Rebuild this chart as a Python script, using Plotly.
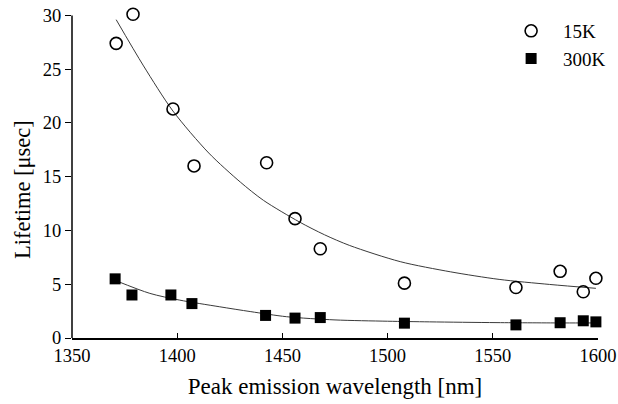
import plotly.graph_objects as go

wl_15k = [1371, 1379, 1398, 1408, 1442.5, 1456, 1468, 1508, 1561, 1582, 1593, 1599]
life_15k = [27.4, 30.1, 21.3, 16.0, 16.3, 11.1, 8.3, 5.1, 4.7, 6.2, 4.3, 5.55]

wl_300k = [1370.5, 1378.5, 1397, 1407, 1442, 1456, 1468, 1508, 1561, 1582, 1593, 1599]
life_300k = [5.5, 4.0, 4.0, 3.2, 2.1, 1.85, 1.9, 1.38, 1.22, 1.42, 1.6, 1.5]

# Fitted curves
fit_wl_15k = [1371, 1384, 1398, 1415, 1430, 1441, 1458, 1470, 1482, 1506, 1530, 1553, 1577, 1599]
fit_life_15k = [29.6, 25.3, 21.1, 17.2, 14.5, 12.8, 10.8, 9.6, 8.6, 7.1, 6.15, 5.45, 4.98, 4.62]

fit_wl_300k = [1371, 1387, 1401, 1420, 1435, 1452, 1475, 1500, 1520, 1552, 1584, 1597]
fit_life_300k = [5.32, 4.15, 3.53, 2.91, 2.45, 1.98, 1.68, 1.56, 1.5, 1.43, 1.4, 1.40]

x_ticks = [1350, 1400, 1450, 1500, 1550, 1600]
y_ticks = [0, 5, 10, 15, 20, 25, 30]
y_axis_top = 30

FONT = "Liberation Serif"
LINE_C = "#3a3a3a"

fig = go.Figure()
fig.add_trace(go.Scatter(x=fit_wl_15k, y=fit_life_15k, mode="lines",
                         line=dict(color=LINE_C, width=1, shape="spline", smoothing=0.8),
                         showlegend=False, hoverinfo="skip"))
fig.add_trace(go.Scatter(x=fit_wl_300k, y=fit_life_300k, mode="lines",
                         line=dict(color=LINE_C, width=1, shape="spline", smoothing=0.8),
                         showlegend=False, hoverinfo="skip"))
fig.add_trace(go.Scatter(x=wl_15k, y=life_15k, mode="markers", name="15K",
                         marker=dict(symbol="circle-open", size=12, color="black",
                                     line=dict(width=1.6, color="black")),
                         cliponaxis=False))
fig.add_trace(go.Scatter(x=wl_300k, y=life_300k, mode="markers", name="300K",
                         marker=dict(symbol="square", size=11, color="black",
                                     line=dict(width=0)),
                         cliponaxis=False))

# y-axis spine only up to the top tick
fig.add_shape(type="line", xref="paper", yref="y", x0=0, x1=0, y0=0, y1=y_axis_top,
              line=dict(color="black", width=1.5))

# y-axis title (placed slightly below the plot centre, as in the reference)
fig.add_annotation(text="Lifetime [μsec]", textangle=-90, showarrow=False,
                   xref="paper", yref="paper", x=0, y=0.451,
                   xanchor="center", yanchor="middle", xshift=-50,
                   font=dict(family=FONT, size=22.5, color="black"))

fig.update_layout(
    width=618, height=404,
    margin=dict(l=72, r=20, t=10, b=66, autoexpand=False),
    paper_bgcolor="white", plot_bgcolor="white",
    font=dict(family=FONT, size=18.5, color="black"),
    showlegend=True,
    legend=dict(x=0.812, y=0.994, xanchor="left", yanchor="top",
                bgcolor="rgba(0,0,0,0)", borderwidth=0,
                font=dict(family=FONT, size=19, color="black"),
                itemwidth=54, tracegroupgap=0),
    xaxis=dict(range=[1350, 1600], tickvals=x_ticks, ticks="inside", ticklen=5,
               tickwidth=1.2, tickcolor="black", automargin=False,
               ticklabeloverflow="allow",
               showline=True, linecolor="black", linewidth=1.5, mirror=False,
               showgrid=False, zeroline=False,
               title=dict(text="Peak emission wavelength [nm]",
                          font=dict(family=FONT, size=23), standoff=13)),
    yaxis=dict(range=[0, 30.5], tickvals=y_ticks, ticks="outside", ticklen=6,
               tickwidth=1.2, tickcolor="black", automargin=False,
               ticklabeloverflow="allow",
               showline=False, showgrid=False, zeroline=False),
)

fig.write_html("out.html", config={"displayModeBar": False},
               post_script="document.body.style.margin='0';")
